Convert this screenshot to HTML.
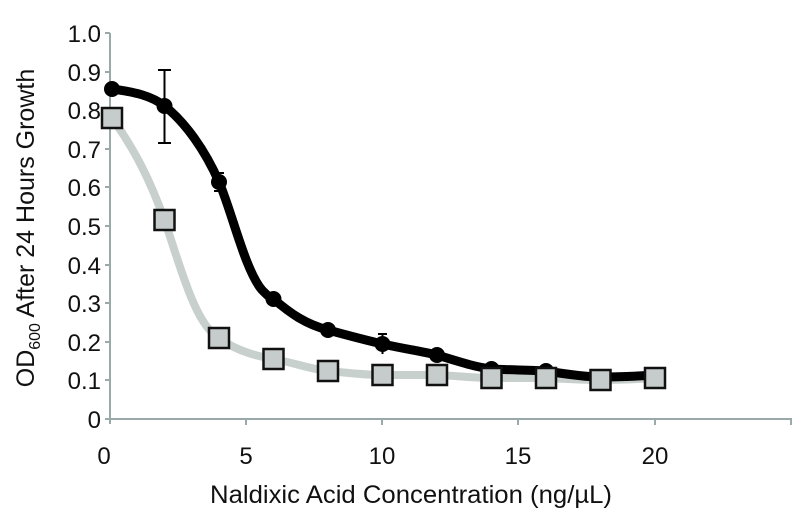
<!DOCTYPE html>
<html><head><style>body{margin:0;background:#fff}svg{display:block}text{font-family:"Liberation Sans",sans-serif;fill:#111}</style></head><body>
<svg width="802" height="521" viewBox="0 0 802 521">
<g stroke="#9aaaaa" stroke-width="2" fill="none">
<line x1="110" y1="33" x2="110" y2="424"/>
<line x1="105" y1="419" x2="792" y2="419"/>
<path d="M105 33h5M105 72h5M105 110h5M105 149h5M105 187h5M105 226h5M105 265h5M105 303h5M105 342h5M105 380h5"/>
<path d="M246 419v6M382 419v6M518 419v6M655 419v6M791 419v6"/>
</g>
<g font-size="24" text-anchor="end">
<text x="101" y="42">1.0</text><text x="101" y="81">0.9</text><text x="101" y="119">0.8</text><text x="101" y="158">0.7</text><text x="101" y="196">0.6</text><text x="101" y="235">0.5</text><text x="101" y="274">0.4</text><text x="101" y="312">0.3</text><text x="101" y="351">0.2</text><text x="101" y="389">0.1</text><text x="101" y="428">0</text>
</g>
<g font-size="24" text-anchor="middle">
<text x="104" y="464">0</text><text x="246" y="464">5</text><text x="382" y="464">10</text><text x="518" y="464">15</text><text x="655" y="464">20</text>
</g>
<text x="411" y="503" font-size="25" text-anchor="middle" textLength="402" lengthAdjust="spacingAndGlyphs">Naldixic Acid Concentration (ng/µL)</text>
<text transform="translate(34,228) rotate(-90)" font-size="25" text-anchor="middle">OD<tspan font-size="16" dy="6">600</tspan><tspan dy="-6"> After 24 Hours Growth</tspan></text>
<path fill="none" stroke="#c8d0ce" stroke-width="8" stroke-linecap="round" stroke-linejoin="round" d="M112 118 C135 150 150 180 164.5 220 C180 265 195 325 219 338 C235 350 255 356 273.5 359 C295 363 310 369 328 371 C350 373 365 375 382.5 375 L437 375 C460 376 475 378 491.5 378 L546 378 C570 379 585 380 600.5 380 C620 380 640 379 655 378"/>
<path fill="none" stroke="#000" stroke-width="9" stroke-linecap="round" stroke-linejoin="round" d="M112 89 C135 92 152 96 164.5 106 C185 122 205 150 219 182 C232 212 245 270 262 290 C268 296 270 298 273.5 299 C290 313 305 324 328 330 C350 336 365 340 382.5 344 C405 349 420 351 437 355 C460 362 475 367 491.5 369 C510 370 530 370 546 371 C565 374 585 377 600.5 377 C620 377 640 376 655 375"/>
<g stroke="#000" stroke-width="2">
<path d="M164.5 70v73M158 70h13M158 143h13M219 173v18M214 173h10M214 191h10M382.5 334v20M378 334h9"/>
</g>
<g fill="#000">
<circle cx="112" cy="89" r="8"/><circle cx="164.5" cy="106" r="8"/><circle cx="219" cy="182" r="8"/><circle cx="273.5" cy="299" r="8"/><circle cx="328" cy="330" r="8"/><circle cx="382.5" cy="344" r="8"/><circle cx="437" cy="355" r="8"/><circle cx="491.5" cy="369" r="8"/><circle cx="546" cy="371" r="8"/><circle cx="600.5" cy="377" r="8"/><circle cx="655" cy="375" r="8"/>
</g>
<g fill="#c6cccb" stroke="#111" stroke-width="2.5">
<rect x="102" y="108" width="20" height="20"/><rect x="154.5" y="210" width="20" height="20"/><rect x="209" y="328" width="20" height="20"/><rect x="263.5" y="349" width="20" height="20"/><rect x="318" y="361" width="20" height="20"/><rect x="372.5" y="365" width="20" height="20"/><rect x="427" y="365" width="20" height="20"/><rect x="481.5" y="368" width="20" height="20"/><rect x="536" y="368" width="20" height="20"/><rect x="590.5" y="370" width="20" height="20"/><rect x="645" y="368" width="20" height="20"/>
</g>
</svg>
</body></html>
